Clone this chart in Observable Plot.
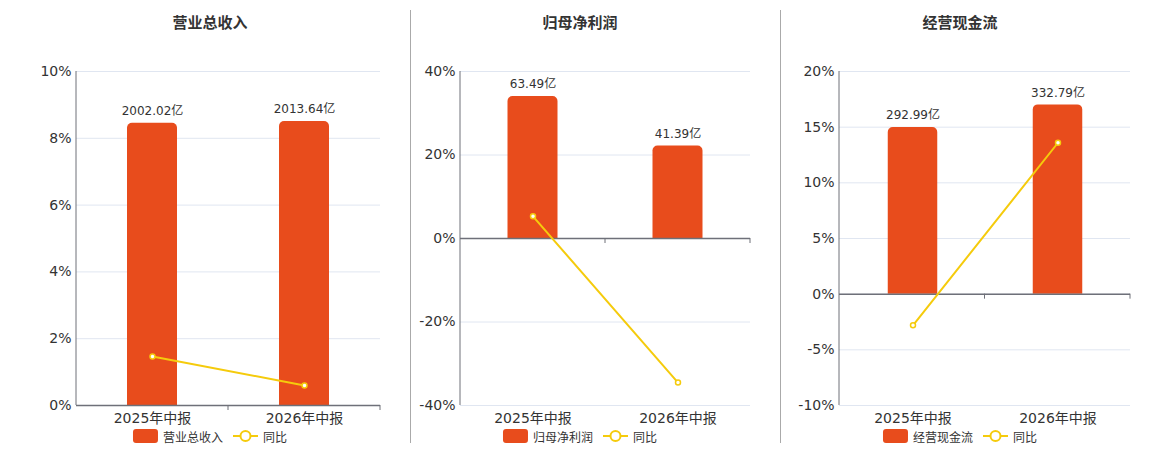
<!DOCTYPE html>
<html><head><meta charset="utf-8">
<script src="https://cdn.jsdelivr.net/npm/d3@7"></script>
<script src="https://cdn.jsdelivr.net/npm/@observablehq/plot@0.6"></script>
<style>
body{margin:0;background:#fff;font-family:"DejaVu Sans","Noto Sans CJK SC",sans-serif;}
#wrap{position:relative;width:1160px;height:450px;overflow:hidden;}
.panel{position:absolute;top:0;height:450px;}
.panel svg{position:absolute;top:44px;left:0;}
.title{position:absolute;top:12px;line-height:20px;font-size:15px;font-weight:bold;color:#333;transform:translateX(-50%);white-space:nowrap;font-family:"Noto Sans CJK SC","DejaVu Sans",sans-serif;}
.legend{position:absolute;top:429px;height:14px;transform:translateX(-50%);display:flex;align-items:center;white-space:nowrap;font-size:12px;color:#333;font-family:"Noto Sans CJK SC","DejaVu Sans",sans-serif;}
.legend .sw{width:25px;height:14px;border-radius:3px;background:#e84c1c;margin-right:5px;}
.legend svg{position:static;margin-right:5px;}
.sep{position:absolute;top:10px;height:433px;width:1px;background:#aaa;}
</style></head>
<body><div id="wrap"></div>
<script>
const categories = ["2025年中报", "2026年中报"];
const revenue = [2002.02, 2013.64];
const revenueYoY = [1.47, 0.60];
const netProfit = [63.49, 41.39];
const netProfitYoY = [5.3, -34.5];
const cashFlow = [292.99, 332.79];
const cashFlowYoY = [-2.8, 13.6];
const revenueTicks = [0, 2, 4, 6, 8, 10];
const netProfitTicks = [-40, -20, 0, 20, 40];
const cashFlowTicks = [-10, -5, 0, 5, 10, 15, 20];
const titles = ["营业总收入", "归母净利润", "经营现金流"];
const yoyName = "同比";

const BAR = "#e84c1c", LINE = "#f5cb0c", AXIS = "#6e7079";
const wrap = document.getElementById("wrap");

function drawPanel({left, width, ml, center, title, values, yoy, ticks}) {
  const panel = document.createElement("div");
  panel.className = "panel";
  panel.style.left = left + "px";
  panel.style.width = width + "px";
  wrap.appendChild(panel);

  const t = document.createElement("div");
  t.className = "title"; t.textContent = title; t.style.left = center + "px";
  panel.appendChild(t);

  const yTop = d3.max(ticks);
  const maxV = d3.max(values);
  const data = categories.map((c, i) => ({cat: c, v: values[i], bar: values[i] / maxV * 0.85 * yTop, yoy: yoy[i]}));
  const mr = 30, mt = 27, mb = 23, height = 384;
  const bw = (width - ml - mr) / categories.length;
  const inset = (bw - 50) / 2;
  const svg = Plot.plot({
    width, height, marginLeft: ml, marginRight: mr, marginTop: mt, marginBottom: mb,
    x: {type: "band", domain: categories, padding: 0},
    y: {domain: d3.extent(ticks)},
    style: {fontFamily: '"DejaVu Sans","Noto Sans CJK SC",sans-serif', background: "transparent", overflow: "visible"},
    marks: [
      Plot.gridY(ticks, {stroke: "#e0e6f1", strokeOpacity: 1}),
      Plot.axisY(ticks, {tickSize: 0, tickPadding: 5, tickFormat: d => d + "%", fontSize: 14, fill: "#333", label: null}),
      Plot.axisX({tickSize: 0, tickPadding: 8, fontSize: 14, fill: "#333", label: null}),
      Plot.barY(data, {x: "cat", y: "bar", fill: BAR, insetLeft: inset, insetRight: inset, ry1: 5}),
      Plot.text(data, {x: "cat", y: "bar", text: d => d.v.toFixed(2) + "亿", dy: -12, fontSize: 12, fill: "#333"}),
      Plot.ruleY([0], {stroke: AXIS, strokeWidth: 1.5}),
      Plot.line(data, {x: "cat", y: "yoy", stroke: LINE, strokeWidth: 2}),
      Plot.dot(data, {x: "cat", y: "yoy", r: 2.5, fill: "#fff", stroke: LINE, strokeWidth: 1.5})
    ]
  });
  const ys = svg.scale("y");
  const y0 = ys.apply(0);
  const g = d3.select(svg).append("g").attr("stroke", AXIS);
  g.append("line").attr("x1", ml).attr("x2", ml).attr("y1", mt).attr("y2", height - mb).attr("stroke-width", 1);
  for (let i = 1; i <= categories.length; i++) {
    const x = ml + i * bw;
    g.append("line").attr("x1", x).attr("x2", x).attr("y1", y0).attr("y2", y0 + 5).attr("stroke-width", 1);
  }
  panel.appendChild(svg);

  const lg = document.createElement("div");
  lg.className = "legend"; lg.style.left = center + "px";
  lg.innerHTML = `<div class="sw"></div><span style="margin-right:10px">${title}</span>` +
    `<svg width="25" height="14"><line x1="0" x2="25" y1="7" y2="7" stroke="${LINE}" stroke-width="2"/><circle cx="12.5" cy="7" r="5" fill="#fff" stroke="${LINE}" stroke-width="2"/></svg><span>${yoyName}</span>`;
  panel.appendChild(lg);
}

drawPanel({left: 0, width: 410, ml: 76, center: 210, title: titles[0], values: revenue, yoy: revenueYoY, ticks: revenueTicks});
drawPanel({left: 410, width: 370, ml: 50, center: 170, title: titles[1], values: netProfit, yoy: netProfitYoY, ticks: netProfitTicks});
drawPanel({left: 780, width: 380, ml: 59, center: 180, title: titles[2], values: cashFlow, yoy: cashFlowYoY, ticks: cashFlowTicks});

[410, 780].forEach(x => {
  const s = document.createElement("div");
  s.className = "sep"; s.style.left = x + "px";
  wrap.appendChild(s);
});
</script></body></html>
